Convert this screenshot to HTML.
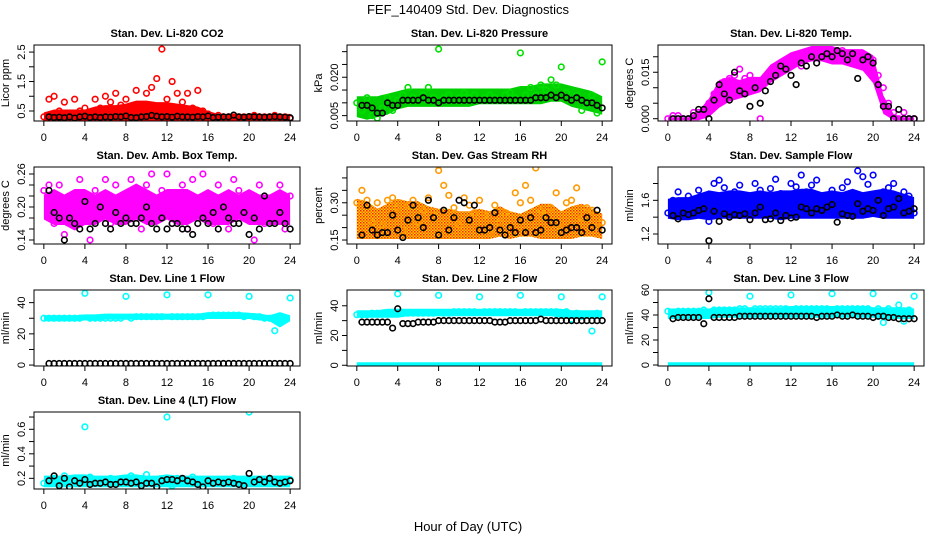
<!DOCTYPE html>
<html><head><meta charset="utf-8"><style>
html,body{margin:0;padding:0;background:#fff;}
svg{display:block;font-family:"Liberation Sans",sans-serif;}
</style></head><body>
<svg id="chart" width="936" height="540" viewBox="0 0 936 540">
<defs>
<pattern id="rhpat" width="3" height="3" patternUnits="userSpaceOnUse"><rect width="3" height="3" fill="#ffd000"/><rect width="1.5" height="1.5" fill="#ff2000"/><rect x="1.5" y="1.5" width="1.5" height="1.5" fill="#ff6000"/></pattern>
</defs>
<text x="468" y="14" text-anchor="middle" font-size="13">FEF_140409  Std. Dev. Diagnostics</text>
<text x="468" y="531" text-anchor="middle" font-size="13">Hour of Day (UTC)</text>
</svg>
<script>
const hours=[0,0.5,1,1.5,2,2.5,3,3.5,4,4.5,5,5.5,6,6.5,7,7.5,8,8.5,9,9.5,10,10.5,11,11.5,12,12.5,13,13.5,14,14.5,15,15.5,16,16.5,17,17.5,18,18.5,19,19.5,20,20.5,21,21.5,22,22.5,23,23.5,24];
const bandHours=[0,1,2,3,4,5,6,7,8,9,10,11,12,13,14,15,16,17,18,19,20,21,22,23,24];
const xTicks=[0,4,8,12,16,20,24];

const co2Pts=[0.3,0.9,1.0,0.5,0.8,0.4,0.9,0.5,0.6,0.4,0.9,0.6,1.0,0.8,1.1,0.7,0.9,0.5,1.2,0.7,1.1,1.3,1.6,2.6,0.9,1.5,1.1,0.8,1.1,0.6,1.2,0.5,0.4,0.3,0.35,0.3,0.3,0.35,0.3,0.3,0.3,0.35,0.3,0.3,0.3,0.35,0.3,0.3,0.25];
const co2Lo=[0.2,0.2,0.2,0.2,0.2,0.2,0.2,0.2,0.2,0.2,0.2,0.2,0.2,0.2,0.2,0.2,0.2,0.2,0.2,0.2,0.2,0.2,0.2,0.2,0.2];
const co2Hi=[0.4,0.5,0.5,0.5,0.5,0.6,0.65,0.65,0.7,0.8,0.8,0.75,0.75,0.7,0.65,0.6,0.45,0.35,0.35,0.35,0.35,0.35,0.35,0.35,0.35];
const co2Blk=[null,0.3,0.28,0.29,0.27,0.3,0.26,0.3,0.32,0.28,0.3,0.28,0.3,0.29,0.31,0.3,0.33,0.28,0.27,0.3,0.31,0.35,0.32,0.3,0.31,0.29,0.32,0.3,0.3,0.29,0.31,0.3,0.33,0.28,0.29,0.3,0.3,0.36,0.3,0.29,0.31,0.3,0.3,0.29,0.3,0.31,0.3,0.29,0.27];

const presPts=[0.010,0.007,0.012,0.005,0.004,0.008,0.012,0.007,0.011,0.013,0.016,0.012,0.011,0.013,0.016,0.012,0.031,0.012,0.013,0.011,0.012,0.014,0.012,0.013,0.011,0.012,0.013,0.012,0.011,0.013,0.014,0.012,0.0295,0.013,0.016,0.013,0.017,0.015,0.019,0.017,0.024,0.014,0.011,0.013,0.007,0.009,0.013,0.006,0.026];
const presLo=[0.005,0.004,0.005,0.006,0.008,0.009,0.009,0.009,0.009,0.009,0.009,0.009,0.010,0.010,0.010,0.010,0.010,0.010,0.010,0.011,0.011,0.009,0.008,0.007,0.006];
const presHi=[0.012,0.012,0.012,0.013,0.014,0.015,0.015,0.015,0.015,0.015,0.015,0.015,0.015,0.015,0.015,0.015,0.016,0.016,0.017,0.017,0.017,0.016,0.015,0.014,0.012];
const presBlk=[null,0.009,0.009,0.008,0.006,0.006,0.010,0.009,0.009,0.011,0.011,0.011,0.011,0.012,0.011,0.011,0.010,0.011,0.011,0.011,0.011,0.011,0.011,0.011,0.011,0.011,0.011,0.011,0.011,0.011,0.011,0.011,0.011,0.011,0.011,0.012,0.012,0.012,0.013,0.012,0.013,0.012,0.011,0.012,0.011,0.010,0.010,0.009,0.008];

const tempPts=[0,0.001,0.001,0,0,0.002,0.002,0.003,0.005,0.008,0.010,0.012,0.013,0.014,0.016,0.013,0.014,0.012,0,0.012,0.014,0.016,0.018,0.017,0.019,0.018,0.017,0.020,0.021,0.022,0.021,0.022,0.021,0.022,0.022,0.021,0.020,0.021,0.017,0.019,0.019,0.014,0.010,0.005,0.002,0,0.002,0,0];
const tempLo=[0,0,0,0,0.001,0.004,0.006,0.007,0.008,0.009,0.012,0.014,0.016,0.018,0.019,0.019,0.018,0.018,0.017,0.016,0.012,0.002,0,0,0];
const tempHi=[0,0,0,0.002,0.006,0.012,0.013,0.012,0.013,0.013,0.017,0.019,0.021,0.022,0.023,0.023,0.023,0.022,0.022,0.022,0.020,0.007,0.001,0,0];
const tempBlk=[null,0,0,0,0,0.001,0.003,0.003,0,0.006,0.011,0.008,0.006,0.015,0.009,0.008,0.004,0.010,0.005,0.009,0.012,0.014,0.017,0.016,0.014,0.011,0.018,0.017,0.020,0.018,0.020,0.021,0.020,0.022,0.021,0.019,0.021,0.013,0.019,0.020,0.018,0.011,0.004,0.004,0,0.003,0,0,0];

const ambPts=[0.23,0.24,0.17,0.24,0.15,0.20,0.17,0.25,0.22,0.14,0.23,0.19,0.25,0.17,0.24,0.21,0.18,0.25,0.22,0.16,0.24,0.26,0.19,0.23,0.26,0.17,0.22,0.24,0.16,0.25,0.19,0.26,0.22,0.17,0.24,0.20,0.16,0.25,0.23,0.18,0.22,0.14,0.24,0.17,0.21,0.18,0.24,0.16,0.22];
const ambLo=[0.18,0.17,0.17,0.16,0.17,0.17,0.18,0.17,0.17,0.18,0.17,0.17,0.18,0.17,0.17,0.18,0.17,0.17,0.17,0.18,0.17,0.17,0.17,0.17,0.17];
const ambHi=[0.22,0.23,0.22,0.23,0.23,0.22,0.23,0.22,0.23,0.24,0.23,0.22,0.23,0.23,0.23,0.22,0.23,0.22,0.23,0.22,0.23,0.22,0.22,0.23,0.22];
const ambBlk=[null,0.23,0.19,0.18,0.14,0.18,0.17,0.16,0.21,0.16,0.17,0.20,0.17,0.16,0.19,0.17,0.18,0.17,0.17,0.18,0.20,0.17,0.16,0.18,0.16,0.17,0.17,0.16,0.16,0.15,0.17,0.18,0.17,0.19,0.16,0.20,0.18,0.17,0.17,0.19,0.15,0.18,0.16,0.22,0.17,0.17,0.19,0.17,0.16];

const rhPts=[0.30,0.35,0.31,0.22,0.30,0.21,0.31,0.32,0.28,0.19,0.29,0.31,0.22,0.27,0.32,0.25,0.43,0.37,0.33,0.28,0.21,0.32,0.29,0.26,0.31,0.25,0.18,0.29,0.22,0.26,0.20,0.34,0.30,0.37,0.31,0.44,0.27,0.25,0.28,0.34,0.20,0.30,0.31,0.36,0.24,0.28,0.27,0.20,0.22];
const rhLo=[0.16,0.16,0.16,0.16,0.16,0.16,0.16,0.16,0.16,0.16,0.16,0.16,0.16,0.16,0.17,0.16,0.17,0.17,0.16,0.16,0.16,0.16,0.17,0.17,0.16];
const rhHi=[0.31,0.30,0.27,0.29,0.31,0.30,0.30,0.28,0.27,0.27,0.26,0.26,0.27,0.26,0.28,0.26,0.25,0.27,0.29,0.29,0.26,0.28,0.29,0.27,0.25];
const rhBlk=[null,0.17,0.29,0.19,0.17,0.18,0.18,0.25,0.19,0.16,0.23,0.29,0.24,0.20,0.31,0.24,0.17,0.27,0.19,0.24,0.31,0.30,0.23,0.29,0.19,0.19,0.20,0.26,0.19,0.17,0.20,0.18,0.23,0.18,0.24,0.18,0.19,0.24,0.22,0.22,0.18,0.19,0.20,0.20,0.18,0.24,0.20,0.27,0.19];

const flowPts=[1.45,1.6,1.7,1.5,1.65,1.55,1.72,1.6,1.35,1.8,1.84,1.75,1.45,1.7,1.78,1.55,1.63,1.8,1.72,1.5,1.74,1.85,1.68,1.6,1.8,1.76,1.9,1.7,1.78,1.84,1.65,1.58,1.72,1.6,1.75,1.82,1.68,1.95,1.88,1.79,1.9,1.6,1.7,1.75,1.8,1.62,1.7,1.65,1.45];
const flowLo=[1.40,1.38,1.38,1.40,1.38,1.40,1.40,1.40,1.40,1.40,1.40,1.38,1.40,1.40,1.40,1.40,1.40,1.40,1.40,1.40,1.42,1.40,1.40,1.40,1.40];
const flowHi=[1.60,1.62,1.62,1.66,1.70,1.68,1.70,1.70,1.68,1.70,1.68,1.70,1.70,1.72,1.72,1.68,1.70,1.68,1.72,1.68,1.70,1.72,1.70,1.66,1.62];
const flowBlk=[null,1.42,1.38,1.45,1.43,1.45,1.48,1.50,1.12,1.47,1.35,1.44,1.40,1.43,1.42,1.44,1.37,1.45,1.52,1.37,1.38,1.45,1.36,1.42,1.39,1.40,1.52,1.50,1.45,1.50,1.48,1.52,1.55,1.34,1.44,1.42,1.41,1.56,1.47,1.50,1.48,1.60,1.42,1.50,1.52,1.62,1.45,1.47,1.50];

const l1Pts=[30,30,30,30,30,30,30,30,46,30,30,30,30,30,30,30,44,30,31,31,31,31,31,31,45,31,31,31,31,31,31,31,45,32,32,32,32,32,32,31,44,31,31,30,30,22,28,30,43];
const l1Lo=[29,29,29,29,29.5,29.5,30,30,30,30,30,30,30,30,30,30,30.5,30.5,30.5,30.5,30.5,29.5,29,25,29];
const l1Hi=[31,31,31,31,31.5,31.5,32,32,32,32,32,32,32,32,32,32,33,33,33,33,32.5,32,31,33,31];
const l1Blk=[null,1,1,1,1,1,1,1,1,1,1,1,1,1,1,1,1,1,1,1,1,1,1,1,1,1,1,1,1,1,1,1,1,1,1,1,1,1,1,1,1,1,1,1,1,1,1,1,1];

const l2Pts=[34,34,34,35,35,35,35,35,48,35,35,35,35,35,35,35,47,35,35,36,36,36,36,36,46,36,36,36,36,36,36,36,47,36,36,36,36,36,36,36,46,36,31,35,33,34,23,35,46];
const l2Lo=[33,33,33,33,33,34,34,34,34,34,34,34,34,34,34,34,34,34,34,34,33,33,33,33,33];
const l2Hi=[36,36,36,37,37,37,37,37,37,37,37,37,37,37,37,37,37,37,37,37,37,36,36,36,36];
const l2ZeroLo=[0.5,0.5,0.5,0.5,0.5,0.5,0.5,0.5,0.5,0.5,0.5,0.5,0.5,0.5,0.5,0.5,0.5,0.5,0.5,0.5,0.5,0.5,0.5,0.5,0.5];
const l2ZeroHi=[1,1,1,1,1,1,1,1,1,1,1,1,1,1,1,1,1,1,1,1,1,1,1,1,1];
const l2Blk=[null,29,29,29,29,29,29,25,38,28,28,28,29,29,29,29,30,30,30,30,30,30,30,30,30,30,30,29,29,29,30,30,30,30,30,30,31,30,30,30,30,30,30,30,30,30,30,30,30];

const l3Pts=[43,42,43,43,43,43,43,44,58,44,44,44,44,44,45,45,55,45,45,45,45,45,45,45,56,45,45,45,45,45,45,45,57,45,45,45,45,45,45,45,57,45,34,45,42,48,35,44,55];
const l3Lo=[38,38,38,38,38,39,39,39,39,39,39,39,39,39,39,39,39,39,39,39,39,38,38,38,38];
const l3Hi=[44,44,44,44,44,45,45,45,45,45,45,45,46,46,46,46,46,46,46,46,45,45,45,45,44];
const l3ZeroLo=[0.5,0.5,0.5,0.5,0.5,0.5,0.5,0.5,0.5,0.5,0.5,0.5,0.5,0.5,0.5,0.5,0.5,0.5,0.5,0.5,0.5,0.5,0.5,0.5,0.5];
const l3ZeroHi=[1,1,1,1,1,1,1,1,1,1,1,1,1,1,1,1,1,1,1,1,1,1,1,1,1];
const l3Blk=[null,37,38,38,38,38,38,33,53,38,38,38,38,38,39,39,39,39,39,39,39,39,39,39,39,39,39,39,39,38,39,39,39,40,39,39,40,39,39,39,38,39,39,38,38,37,37,37,37];

const l4Pts=[0.16,0.18,0.2,0.17,0.22,0.16,0.19,0.18,0.62,0.21,0.18,0.17,0.19,0.2,0.18,0.17,0.2,0.22,0.18,0.17,0.23,0.19,0.18,0.17,0.70,0.14,0.20,0.19,0.18,0.21,0.17,0.16,0.18,0.19,0.17,0.16,0.18,0.20,0.19,0.17,0.74,0.18,0.17,0.19,0.20,0.18,0.17,0.18,0.19];
const l4Lo=[0.14,0.14,0.14,0.14,0.14,0.14,0.14,0.14,0.14,0.14,0.14,0.14,0.14,0.14,0.14,0.14,0.14,0.14,0.14,0.14,0.14,0.14,0.14,0.14,0.14];
const l4Hi=[0.21,0.21,0.21,0.22,0.22,0.21,0.21,0.21,0.22,0.22,0.21,0.21,0.22,0.21,0.21,0.21,0.21,0.21,0.21,0.21,0.21,0.21,0.21,0.21,0.21];
const l4Blk=[null,0.18,0.22,0.14,0.20,0.13,0.18,0.16,0.19,0.15,0.16,0.16,0.17,0.15,0.15,0.17,0.17,0.16,0.17,0.14,0.16,0.16,0.13,0.18,0.19,0.19,0.18,0.20,0.18,0.17,0.15,0.13,0.18,0.16,0.17,0.16,0.17,0.16,0.15,0.14,0.24,0.17,0.19,0.17,0.20,0.17,0.16,0.17,0.18];

const panels=[
 {id:'co2',title:'Stan. Dev. Li-820 CO2',ylab:'Licor ppm',col:0,row:0,ymin:0.16,ymax:2.74,ticks:[0.5,1,1.5,2,2.5],labels:['0.5','1.5','2.5'],color:'#ff0000',band:'#ff0000',pts:co2Pts,lo:co2Lo,hi:co2Hi,blk:co2Blk},
 {id:'pressure',title:'Stan. Dev. Li-820 Pressure',ylab:'kPa',col:1,row:0,ymin:0.0029,ymax:0.0326,ticks:[0.005,0.010,0.015,0.020,0.025,0.030],labels:['0.005','0.020'],color:'#00e000',band:'#00d000',pts:presPts,lo:presLo,hi:presHi,blk:presBlk},
 {id:'li820-temp',title:'Stan. Dev. Li-820 Temp.',ylab:'degrees C',col:2,row:0,ymin:-0.00074,ymax:0.0238,ticks:[0,0.005,0.010,0.015,0.020],labels:['0.000','0.015'],color:'#ff00ff',band:'#ff00ff',pts:tempPts,lo:tempLo,hi:tempHi,blk:tempBlk},
 {id:'amb-box-temp',title:'Stan. Dev. Amb. Box Temp.',ylab:'degrees C',col:0,row:1,ymin:0.1327,ymax:0.2727,ticks:[0.14,0.16,0.18,0.20,0.22,0.24,0.26],labels:['0.14','0.20','0.26'],color:'#ff00ff',band:'#ff00ff',pts:ambPts,lo:ambLo,hi:ambHi,blk:ambBlk},
 {id:'gas-rh',title:'Stan. Dev. Gas Stream RH',ylab:'percent',col:1,row:1,ymin:0.134,ymax:0.444,ticks:[0.15,0.20,0.25,0.30,0.35,0.40],labels:['0.15','0.30'],color:'#ff9900',band:'url(#rhpat)',pts:rhPts,lo:rhLo,hi:rhHi,blk:rhBlk},
 {id:'sample-flow',title:'Stan. Dev. Sample Flow',ylab:'ml/min',col:2,row:1,ymin:1.081,ymax:1.996,ticks:[1.2,1.4,1.6,1.8],labels:['1.2','1.6'],color:'#0000ff',band:'#0000ff',pts:flowPts,lo:flowLo,hi:flowHi,blk:flowBlk},
 {id:'line1-flow',title:'Stan. Dev. Line 1 Flow',ylab:'ml/min',col:0,row:2,ymin:-0.6,ymax:48.1,ticks:[0,10,20,30,40],labels:['0','20','40'],color:'#00ffff',band:'#00ffff',pts:l1Pts,lo:l1Lo,hi:l1Hi,blk:l1Blk},
 {id:'line2-flow',title:'Stan. Dev. Line 2 Flow',ylab:'ml/min',col:1,row:2,ymin:-0.5,ymax:50.6,ticks:[0,10,20,30,40],labels:['0','20','40'],color:'#00ffff',band:'#00ffff',pts:l2Pts,lo:l2Lo,hi:l2Hi,lo2:l2ZeroLo,hi2:l2ZeroHi,blk:l2Blk},
 {id:'line3-flow',title:'Stan. Dev. Line 3 Flow',ylab:'ml/min',col:2,row:2,ymin:-0.8,ymax:60,ticks:[0,10,20,30,40,50,60],labels:['0','20','40','60'],color:'#00ffff',band:'#00ffff',pts:l3Pts,lo:l3Lo,hi:l3Hi,lo2:l3ZeroLo,hi2:l3ZeroHi,blk:l3Blk},
 {id:'line4-flow',title:'Stan. Dev. Line 4 (LT) Flow',ylab:'ml/min',col:0,row:3,ymin:0.113,ymax:0.741,ticks:[0.2,0.3,0.4,0.5,0.6,0.7],labels:['0.2','0.4','0.6'],color:'#00ffff',band:'#00ffff',pts:l4Pts,lo:l4Lo,hi:l4Hi,blk:l4Blk}
];

const colX=[[34,300],[347,612],[658,924]];
const rowY=[[45,121],[167,244],[290,366],[412,489]];
const NS='http://www.w3.org/2000/svg';
const svg=document.getElementById('chart');
function mk(tag,attrs,parent){const e=document.createElementNS(NS,tag);for(const k in attrs)e.setAttribute(k,attrs[k]);(parent||svg).appendChild(e);return e;}

panels.forEach(p=>{
  const [L,R]=colX[p.col],[T,B]=rowY[p.row];
  const xs=h=>L+(h+0.96)/25.92*(R-L);
  const ys=v=>B-(v-p.ymin)/(p.ymax-p.ymin)*(B-T);
  const g=mk('g',{});
  
  
  const cp=mk('clipPath',{id:'cp-'+p.id},g);mk('rect',{x:L,y:T,width:R-L,height:B-T},cp);
  const plot=mk('g',{'clip-path':'url(#cp-'+p.id+')'},g);
  
  
  function band(lo,hi,name){
    let d='';bandHours.forEach((h,i)=>{d+=(i?'L':'M')+xs(h).toFixed(1)+','+(ys(hi[i])-1.5).toFixed(1);});
    for(let i=bandHours.length-1;i>=0;i--)d+='L'+xs(bandHours[i]).toFixed(1)+','+(ys(lo[i])+1.5).toFixed(1);
    const b=mk('path',{d:d+'Z',fill:p.band,stroke:'none'},plot);
    
    
  }
  band(p.lo,p.hi,p.id+'-band');
  if(p.lo2)band(p.lo2,p.hi2,p.id+'-zero-band');
  p.pts.forEach((v,i)=>{if(v==null)return;
    const c=mk('circle',{cx:xs(hours[i]),cy:ys(v),r:2.8,fill:'none',stroke:p.color,'stroke-width':1.6},plot);
    
    
  });
  p.blk.forEach((v,i)=>{if(v==null)return;
    const c=mk('circle',{cx:xs(hours[i]),cy:ys(v),r:2.8,fill:'none',stroke:'#000','stroke-width':1.6},plot);
    
    
  });
  const box=mk('rect',{x:L,y:T,width:R-L,height:B-T,fill:'none',stroke:'#000','stroke-width':1},g);
  
  
  const t=mk('text',{x:(L+R)/2,y:T-8,'text-anchor':'middle','font-size':11,'font-weight':'bold'},g);t.textContent=p.title;
  
  
  mk('line',{x1:xs(0),x2:xs(24),y1:B,y2:B,stroke:'#000'},g);
  xTicks.forEach(h=>{
    mk('line',{x1:xs(h),x2:xs(h),y1:B,y2:B+5,stroke:'#000'},g);
    const tx=mk('text',{x:xs(h),y:B+20,'text-anchor':'middle','font-size':11},g);tx.textContent=h;
    
    
  });
  mk('line',{x1:L,x2:L,y1:ys(p.ticks[0]),y2:ys(p.ticks[p.ticks.length-1]),stroke:'#000'},g);
  p.ticks.forEach(v=>mk('line',{x1:L-5,x2:L,y1:ys(v),y2:ys(v),stroke:'#000'},g));
  p.labels.forEach(s=>{const y=ys(parseFloat(s));
    const ty=mk('text',{x:L-9,y:y,'text-anchor':'middle','font-size':11,transform:'rotate(-90 '+(L-9)+' '+y+')'},g);ty.textContent=s;
    
    
  });
  const yl=mk('text',{x:L-25,y:(T+B)/2,'text-anchor':'middle','font-size':11,transform:'rotate(-90 '+(L-25)+' '+(T+B)/2+')'},g);yl.textContent=p.ylab;
  
  
});
</script>
</body></html>
